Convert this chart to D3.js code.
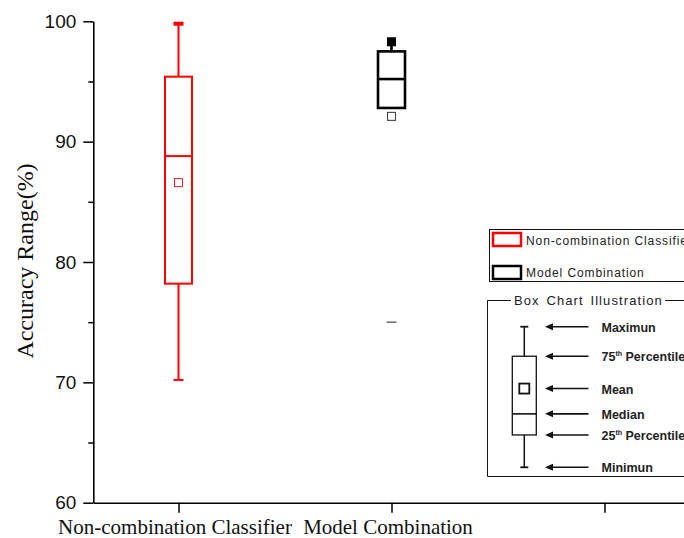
<!DOCTYPE html>
<html>
<head>
<meta charset="utf-8">
<script src="https://cdn.jsdelivr.net/npm/d3@7"></script>
<style>
  body { margin: 0; background: #fff; }
  svg { display: block; }
</style>
</head>
<body>
<div id="wrap"></div>
<script>
// 数据
const categories = ["Non-combination Classifier", "Model Combination"];
const minValues = [70.2, 75.0];
const q1Values = [78.2, 92.8];
const medianValues = [88.8, 95.2];
const q3Values = [95.4, 97.5];
const maxValues = [99.8, 98.3];
const meanValues = [86.6, 92.1];
const whiskerLow = [70.2, 92.8];
const whiskerHigh = [99.8, 98.3];
const yTicks = [60, 70, 80, 90, 100];
const yMinorTicks = [65, 75, 85, 95];
const xTicks = [1, 2, 3];
const legendLabels = ["Non-combination Classifier", "Model Combination"];
const illustrationLabels = ["Maximun", "75th Percentile", "Mean", "Median", "25th Percentile", "Minimun"];
const illustrationValues = [100, 79, 56, 38, 23, 0]; // max, q3, mean, median, q1, min

chart()
function chart(){
  const WIDTH = 684;
  const HEIGHT = 538;
  const AXIS_X = 93.3;   // y轴位置
  const AXIS_Y = 502.7;  // x轴位置
  const TOP = 21.3;

  const colors = ["#ff0000", "#000000"];
  const boxStroke = [2, 2.6];
  const BOX_W = 27;

  let svg = d3.select('#wrap')
    .append('svg')
    .attr('width', WIDTH)
    .attr('height', HEIGHT)
    .style('background', '#FFFFFF')

  // 比例尺
  let x = d3.scaleLinear()
    .domain([0.6, 3.4])
    .range([AXIS_X, AXIS_X + 2.8 * 213])
  let y = d3.scaleLinear()
    .domain([60, 100])
    .range([AXIS_Y, TOP])

  // y轴 (次刻度)
  svg.append('g')
    .attr('transform', 'translate(' + AXIS_X + ',0)')
    .call(d3.axisLeft(y).tickValues(yMinorTicks).tickSize(5).tickFormat(''))
    .call(g => g.select('.domain').remove())
    .selectAll('line').attr('stroke-width', 1.5)

  // y轴
  let yAxisG = svg.append('g')
    .attr('transform', 'translate(' + AXIS_X + ',0)')
    .call(d3.axisLeft(y).tickValues(yTicks).tickSize(10).tickSizeOuter(0).tickPadding(7))
  yAxisG.select('.domain').attr('stroke-width', 1.6)
  yAxisG.selectAll('line').attr('stroke-width', 1.5)
  yAxisG.selectAll('text')
    .style('font-family', 'Liberation Sans, Arial, sans-serif')
    .style('font-size', '19px')
    .attr('fill', '#111')

  // x轴
  let xAxisG = svg.append('g')
    .attr('transform', 'translate(0,' + AXIS_Y + ')')
    .call(d3.axisBottom(x).tickValues(xTicks).tickSize(10).tickSizeOuter(0)
      .tickFormat(d => categories[d - 1] || ''))
  xAxisG.select('.domain').attr('stroke-width', 1.6)
  xAxisG.selectAll('line').attr('stroke-width', 1.5)
  xAxisG.selectAll('text')
    .attr('y', 31)
    .attr('dy', 0)
    .attr('dx', -4)
    .style('font-family', 'Liberation Serif, Times New Roman, serif')
    .style('font-size', '21px')
    .attr('fill', '#111')

  // y轴标题
  svg.append('text')
    .attr('transform', 'translate(33,261) rotate(-90)')
    .attr('text-anchor', 'middle')
    .style('font-family', 'Liberation Serif, Times New Roman, serif')
    .style('font-size', '24px')
    .attr('fill', '#111')
    .text('Accuracy Range(%)')

  // 箱线图
  let boxes = svg.append('g').selectAll('g')
    .data(categories)
    .enter()
    .append('g')

  // 须线
  boxes.append('line')
    .attr('x1', (d, i) => x(i + 1))
    .attr('x2', (d, i) => x(i + 1))
    .attr('y1', (d, i) => y(whiskerLow[i]))
    .attr('y2', (d, i) => y(whiskerHigh[i]))
    .attr('stroke', (d, i) => colors[i])
    .attr('stroke-width', (d, i) => boxStroke[i])

  // 箱体
  boxes.append('rect')
    .attr('x', (d, i) => x(i + 1) - BOX_W / 2)
    .attr('y', (d, i) => y(q3Values[i]))
    .attr('width', BOX_W)
    .attr('height', (d, i) => y(q1Values[i]) - y(q3Values[i]))
    .attr('fill', '#fff')
    .attr('stroke', (d, i) => colors[i])
    .attr('stroke-width', (d, i) => boxStroke[i])

  // 中位数
  boxes.append('line')
    .attr('x1', (d, i) => x(i + 1) - BOX_W / 2)
    .attr('x2', (d, i) => x(i + 1) + BOX_W / 2)
    .attr('y1', (d, i) => y(medianValues[i]))
    .attr('y2', (d, i) => y(medianValues[i]))
    .attr('stroke', (d, i) => colors[i])
    .attr('stroke-width', (d, i) => boxStroke[i])

  // 平均值
  boxes.append('rect')
    .attr('x', (d, i) => x(i + 1) - 4)
    .attr('y', (d, i) => y(meanValues[i]) - 4)
    .attr('width', 8)
    .attr('height', 8)
    .attr('fill', '#fff')
    .attr('stroke', (d, i) => i === 0 ? '#e03030' : '#444')
    .attr('stroke-width', 1.1)

  // 最大值标记
  boxes.each(function(d, i){
    let g = d3.select(this)
    if (i === 0) {
      g.append('rect')
        .attr('x', x(i + 1) - 5)
        .attr('y', y(maxValues[i]) - 2)
        .attr('width', 10)
        .attr('height', 4)
        .attr('fill', colors[i])
    } else {
      g.append('rect')
        .attr('x', x(i + 1) - 4.5)
        .attr('y', y(maxValues[i]) - 4.5)
        .attr('width', 9)
        .attr('height', 9)
        .attr('fill', colors[i])
    }
    // 最小值标记
    g.append('line')
      .attr('x1', x(i + 1) - 5)
      .attr('x2', x(i + 1) + 5)
      .attr('y1', y(minValues[i]))
      .attr('y2', y(minValues[i]))
      .attr('stroke', i === 0 ? colors[i] : '#777')
      .attr('stroke-width', i === 0 ? 2 : 1.6)
  })

  // 图例
  let legend = svg.append('g')
  legend.append('rect')
    .attr('x', 489.5)
    .attr('y', 229.5)
    .attr('width', 220)
    .attr('height', 52)
    .attr('fill', 'none')
    .attr('stroke', '#111')
    .attr('stroke-width', 1)
  legend.selectAll('.sw')
    .data(legendLabels)
    .enter()
    .append('rect')
    .attr('x', 493)
    .attr('y', (d, i) => 233 + i * 33)
    .attr('width', 28)
    .attr('height', 13)
    .attr('fill', '#fff')
    .attr('stroke', (d, i) => colors[i])
    .attr('stroke-width', 2.5)
  legend.selectAll('.lt')
    .data(legendLabels)
    .enter()
    .append('text')
    .attr('x', 526)
    .attr('y', (d, i) => 244.5 + i * 32.5)
    .style('font-family', 'Liberation Sans, Arial, sans-serif')
    .style('font-size', '12px')
    .style('letter-spacing', '0.9px')
    .attr('fill', '#222')
    .text(d => d)

  // 箱线图说明
  let illus = svg.append('g')
  let iy = d3.scaleLinear().domain([0, 100]).range([467.3, 326.7])
  illus.append('path')
    .attr('d', 'M511,300.5 H487.5 V476.5 H700 V300.5 H665')
    .attr('fill', 'none')
    .attr('stroke', '#111')
    .attr('stroke-width', 1)
  illus.append('text')
    .attr('x', 514)
    .attr('y', 305)
    .style('font-family', 'Liberation Sans, Arial, sans-serif')
    .style('font-size', '13px')
    .style('letter-spacing', '1.1px')
    .style('word-spacing', '2px')
    .attr('fill', '#222')
    .text('Box Chart Illustration')

  const GX = 524.3;
  // 说明箱体
  illus.append('line')
    .attr('x1', GX).attr('x2', GX)
    .attr('y1', iy(illustrationValues[5])).attr('y2', iy(illustrationValues[0]))
    .attr('stroke', '#111').attr('stroke-width', 1.5)
  illus.selectAll('.cap')
    .data([illustrationValues[0], illustrationValues[5]])
    .enter()
    .append('line')
    .attr('x1', GX - 4).attr('x2', GX + 4)
    .attr('y1', d => iy(d)).attr('y2', d => iy(d))
    .attr('stroke', '#111').attr('stroke-width', 1.8)
  illus.append('rect')
    .attr('x', GX - 12)
    .attr('y', iy(illustrationValues[1]))
    .attr('width', 24)
    .attr('height', iy(illustrationValues[4]) - iy(illustrationValues[1]))
    .attr('fill', '#fff')
    .attr('stroke', '#111').attr('stroke-width', 1.3)
  illus.append('line')
    .attr('x1', GX - 12).attr('x2', GX + 12)
    .attr('y1', iy(illustrationValues[3])).attr('y2', iy(illustrationValues[3]))
    .attr('stroke', '#111').attr('stroke-width', 1.6)
  illus.append('rect')
    .attr('x', GX - 5)
    .attr('y', iy(illustrationValues[2]) - 5)
    .attr('width', 10).attr('height', 10)
    .attr('fill', '#fff')
    .attr('stroke', '#111').attr('stroke-width', 1.8)

  // 箭头
  let arrows = illus.selectAll('.arrow')
    .data(illustrationValues)
    .enter()
    .append('g')
    .attr('transform', d => 'translate(0,' + iy(d) + ')')
  arrows.append('line')
    .attr('x1', 550).attr('x2', 588.5)
    .attr('y1', 0).attr('y2', 0)
    .attr('stroke', '#111').attr('stroke-width', 1.6)
  arrows.append('path')
    .attr('d', 'M545,0 L553,-3.5 L553,3.5 Z')
    .attr('fill', '#111')
  let labels = arrows.append('text')
    .attr('x', 601.5)
    .attr('y', 5)
    .style('font-family', 'Liberation Sans, Arial, sans-serif')
    .style('font-size', '12.5px')
    .style('font-weight', 'bold')
    .attr('fill', '#222')
  labels.each(function(d, i){
    let t = d3.select(this)
    let s = illustrationLabels[i]
    let m = s.match(/^(\d+)th (.*)$/)
    if (m) {
      t.append('tspan').text(m[1])
      t.append('tspan').attr('dy', -5).style('font-size', '7px').text('th')
      t.append('tspan').attr('dy', 5).text(' ' + m[2])
    } else {
      t.text(s)
    }
  })
}
</script>
</body>
</html>
